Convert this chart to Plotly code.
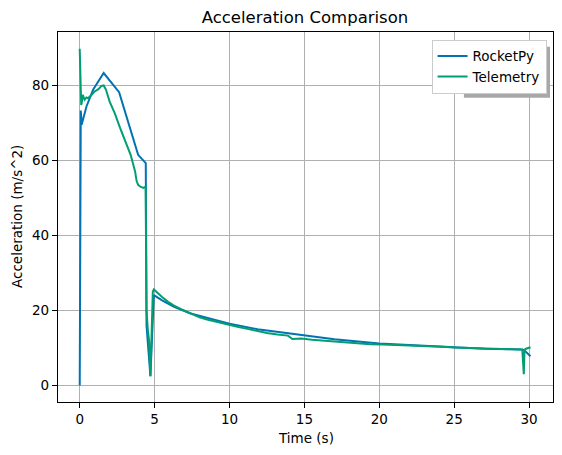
import plotly.graph_objects as go

# RocketPy simulation
sim_time = [0, 0.07, 0.13, 0.45, 0.9, 1.6, 2.63, 3.9, 4.41, 4.46, 4.72, 4.95,
            5.5, 6.3, 7.4, 8.5, 10, 12, 14, 15, 17, 20, 22, 25, 27, 29.4,
            29.65, 30.1]
sim_accel = [0, 73.3, 69.5, 74.4, 78.9, 83.3, 78.2, 61.5, 59.3, 16, 2.5, 24.1,
             22.7, 21.0, 19.2, 18.0, 16.5, 14.9, 13.9, 13.2, 12.3, 11.2,
             10.8, 10.1, 9.8, 9.6, 9.5, 7.8]

# Telemetry
tel_time = [0, 0.04, 0.06, 0.1, 0.14, 0.2, 0.27, 0.33, 0.45, 0.55, 0.8, 1.0,
            1.25, 1.45, 1.6, 1.75, 2.0, 2.35, 2.7, 3.05, 3.4, 3.6, 3.7, 3.8,
            3.9, 4.05, 4.25, 4.4, 4.46, 4.55, 4.63, 4.72, 4.8, 4.88, 4.95,
            5.2, 5.5, 5.9, 6.3, 6.8, 7.4, 8.0, 8.5, 9.0, 9.5, 10.0, 10.6,
            11.2, 11.8, 12.5, 13.2, 13.9, 14.2, 14.8, 15.5, 16.2, 17.0, 17.8,
            18.6, 19.4, 20.2, 21.0, 21.8, 22.6, 23.4, 24.2, 25.0, 25.8, 26.6,
            27.4, 28.2, 29.0, 29.55, 29.65, 29.7, 29.8, 30.1]
tel_accel = [89.8, 85.5, 80, 74.8, 75.5, 77.5, 76.8, 76.2, 76.8, 76.6, 77.5,
             78.4, 79.0, 79.9, 80.0, 78.9, 75.7, 72.5, 68.6, 65.0, 61.5, 58.5,
             57.0, 54.5, 53.5, 53.0, 52.7, 53.0, 20, 14.8, 12, 2.5, 12, 25.0,
             25.6, 24.8, 23.6, 22.3, 21.3, 20.3, 19.2, 18.2, 17.6, 17.1, 16.7,
             16.0, 15.6, 15.1, 14.5, 14.0, 13.6, 13.3, 12.4, 12.5, 12.2, 12.0,
             11.6, 11.5, 11.2, 11.0, 10.9, 10.8, 10.6, 10.5, 10.4, 10.3, 10.1,
             10.0, 9.9, 9.8, 9.7, 9.7, 9.6, 3.0, 9.5, 9.8, 10.2]

fig = go.Figure()
fig.add_trace(go.Scatter(x=sim_time, y=sim_accel, mode='lines', name='RocketPy',
                         line=dict(color='#0173B2', width=2)))
fig.add_trace(go.Scatter(x=tel_time, y=tel_accel, mode='lines', name='Telemetry',
                         line=dict(color='#029E73', width=2)))

axis_style = dict(showline=True, mirror=True, linecolor='black', linewidth=1.2,
                  ticks='outside', ticklen=5, tickcolor='black', tickwidth=1,
                  showgrid=True, gridcolor='#b0b0b0', gridwidth=1,
                  zeroline=False, automargin=False,
                  tickfont=dict(size=13.5, color='black'))

# page body has an 8px margin, so the figure is a bit smaller than the window
W, H = 554, 447
fig.update_layout(
    width=W, height=H,
    margin=dict(l=50, r=9, t=24, b=53),
    paper_bgcolor='white', plot_bgcolor='white',
    font=dict(family='DejaVu Sans', color='black', size=13.5),
    title=dict(text='Acceleration Comparison', x=297 / W, xanchor='center',
               y=1 - 9 / H, yanchor='middle', font=dict(size=16.5)),
    xaxis=dict(range=[-1.45, 31.6], tickvals=[0, 5, 10, 15, 20, 25, 30], **axis_style),
    yaxis=dict(range=[-4.4, 94.25], tickvals=[0, 20, 40, 60, 80], **axis_style),
    legend=dict(x=0.987, xanchor='right', y=0.979, yanchor='top',
                bgcolor='white', bordercolor='#cccccc',
                borderwidth=1, font=dict(size=13.5)),
    showlegend=True,
)

# axis titles placed like matplotlib labels
fig.add_annotation(text='Time (s)', xref='paper', yref='paper', x=0.5, y=-36 / 370,
                   showarrow=False, xanchor='center', yanchor='middle')
fig.add_annotation(text='Acceleration (m/s^2)', xref='paper', yref='paper',
                   x=-41 / 495, y=0.5, textangle=-90, showarrow=False,
                   xanchor='center', yanchor='middle')

# legend drop shadow (only right and bottom edges peek out)
fig.add_shape(type='rect', xref='paper', yref='paper', x0=0.82, x1=0.994,
              y0=0.822, y1=0.96, fillcolor='#a8a8a8', line_width=0, layer='above')

fig.write_html("out.html")
